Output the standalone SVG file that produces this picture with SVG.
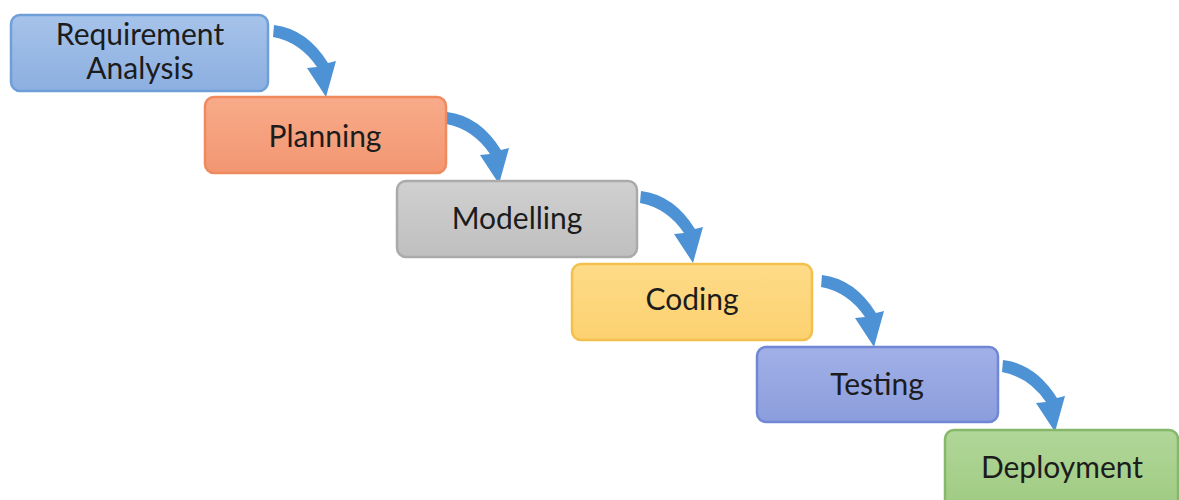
<svg xmlns="http://www.w3.org/2000/svg" width="1179" height="500" viewBox="0 0 1179 500">
<defs>
<linearGradient id="gBlue" x1="0" y1="0" x2="0" y2="1"><stop offset="0" stop-color="#a6c3ea"/><stop offset="1" stop-color="#8cafe0"/></linearGradient>
<linearGradient id="gOrange" x1="0" y1="0" x2="0" y2="1"><stop offset="0" stop-color="#f8ab89"/><stop offset="1" stop-color="#f39672"/></linearGradient>
<linearGradient id="gGray" x1="0" y1="0" x2="0" y2="1"><stop offset="0" stop-color="#d0d0d0"/><stop offset="1" stop-color="#bfbfbf"/></linearGradient>
<linearGradient id="gYellow" x1="0" y1="0" x2="0" y2="1"><stop offset="0" stop-color="#fedb88"/><stop offset="1" stop-color="#fcd170"/></linearGradient>
<linearGradient id="gIndigo" x1="0" y1="0" x2="0" y2="1"><stop offset="0" stop-color="#a1b0e7"/><stop offset="1" stop-color="#8b9ddc"/></linearGradient>
<linearGradient id="gGreen" x1="0" y1="0" x2="0" y2="1"><stop offset="0" stop-color="#b1d698"/><stop offset="1" stop-color="#9fcb82"/></linearGradient>
<path id="arrow" d="M0,0 Q33,4 54,38 L62,36 L52,72 L33,43 L43,42 Q26,17 -1,12 Z"/>
</defs>
<style>
.box{stroke-width:2.5}
.lbl{font-family:Lato,"Open Sans","Liberation Sans",sans-serif;font-size:30px;fill:#1c1c1c;text-anchor:middle}
.arr{fill:#4d92d5}
</style>
<rect width="1179" height="500" fill="#ffffff"/>
<g id="connectors">
<use href="#arrow" class="arr" transform="translate(274,25)"/>
<use href="#arrow" class="arr" transform="translate(447,112)"/>
<use href="#arrow" class="arr" transform="translate(641,191)"/>
<use href="#arrow" class="arr" transform="translate(822,275)"/>
<use href="#arrow" class="arr" transform="translate(1003,360)"/>
</g>
<g id="n1"><rect class="box" x="11" y="15" width="257" height="76" rx="9" fill="url(#gBlue)" stroke="#6f9fd9"/><text class="lbl" x="140" y="45">Requirement</text><text class="lbl" x="140" y="79">Analysis</text></g>
<g id="n2"><rect class="box" x="205" y="97" width="241" height="76" rx="9" fill="url(#gOrange)" stroke="#ee8a5e"/><text class="lbl" x="325" y="147">Planning</text></g>
<g id="n3"><rect class="box" x="397" y="181" width="240" height="76" rx="9" fill="url(#gGray)" stroke="#aaaaaa"/><text class="lbl" x="517" y="229">Modelling</text></g>
<g id="n4"><rect class="box" x="572" y="264" width="240" height="76" rx="9" fill="url(#gYellow)" stroke="#f3c04e"/><text class="lbl" x="692" y="310">Coding</text></g>
<g id="n5"><rect class="box" x="757" y="347" width="241" height="75" rx="9" fill="url(#gIndigo)" stroke="#6f87d5"/><text class="lbl" x="877" y="395">Testing</text></g>
<g id="n6"><rect class="box" x="945" y="430" width="233" height="80" rx="9" fill="url(#gGreen)" stroke="#85b86a"/><text class="lbl" x="1062" y="478">Deployment</text></g>
</svg>
